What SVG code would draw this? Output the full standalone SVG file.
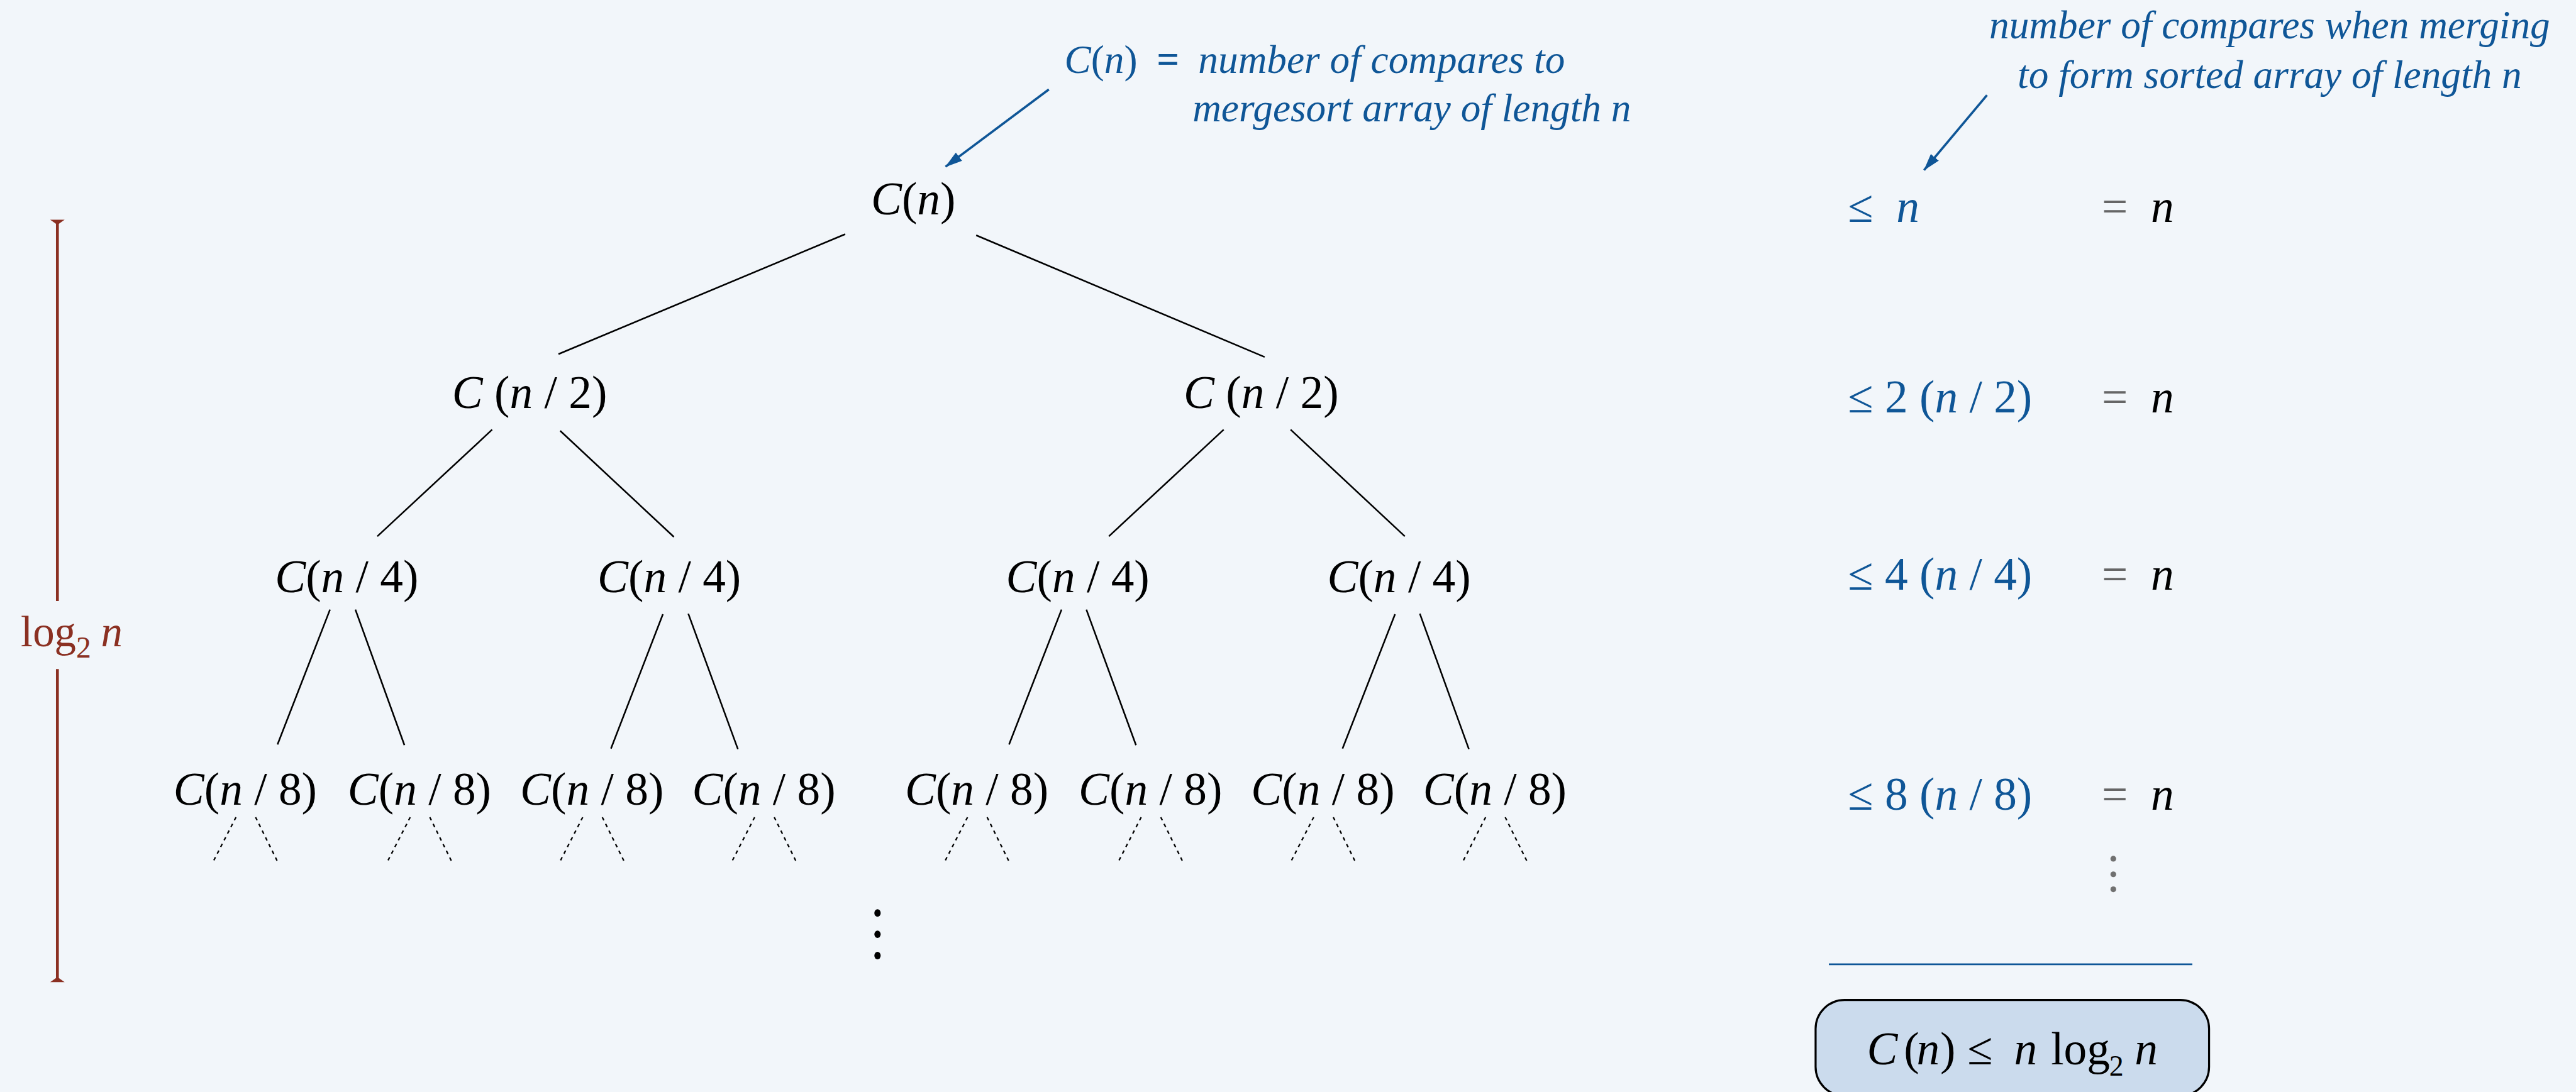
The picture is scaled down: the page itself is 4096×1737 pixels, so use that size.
<svg xmlns="http://www.w3.org/2000/svg" width="4096" height="1737" viewBox="0 0 4096 1737">
<style>
text{font-family:"Liberation Serif","Times New Roman",serif;}
.node{font-size:80px;fill:#000;text-anchor:middle;}
.i{font-style:italic;}
.blue{fill:#0f5697;}
.ann{font-size:69px;fill:#0f5697;font-style:italic;}
.eq{font-size:80px;}
.gray{fill:#666;}
.edge{stroke:#000;stroke-width:2.8;fill:none;}
.dash{stroke:#000;stroke-width:2.5;stroke-dasharray:6 7;fill:none;}
.arrow{stroke:#0f5697;stroke-width:4;fill:none;marker-end:url(#ah);}
</style>
<defs>
<marker id="ah" markerUnits="userSpaceOnUse" markerWidth="30" markerHeight="18" viewBox="0 0 30 18" refX="29" refY="9" orient="auto">
<path d="M0,0 L30,9 L0,18 z" fill="#0f5697"/>
</marker>
</defs>
<rect x="0" y="0" width="4096" height="1737" fill="#f2f6fa"/>
<g transform="scale(0.91736)">

<g id="connectors">
<line class="edge" x1="1465" y1="406" x2="968" y2="614"/>
<line class="edge" x1="1692" y1="408" x2="2192" y2="619"/>
<line class="edge" x1="853" y1="745" x2="654" y2="930"/>
<line class="edge" x1="971" y1="747" x2="1168" y2="931"/>
<line class="edge" x1="2121" y1="745" x2="1922" y2="930"/>
<line class="edge" x1="2237" y1="745" x2="2435" y2="930"/>
<line class="edge" x1="572" y1="1057" x2="481" y2="1291"/>
<line class="edge" x1="616" y1="1057" x2="701" y2="1292"/>
<line class="edge" x1="1149" y1="1065" x2="1059" y2="1298"/>
<line class="edge" x1="1193" y1="1064" x2="1279" y2="1299"/>
<line class="edge" x1="1840" y1="1057" x2="1749" y2="1291"/>
<line class="edge" x1="1883" y1="1057" x2="1969" y2="1292"/>
<line class="edge" x1="2418" y1="1065" x2="2327" y2="1298"/>
<line class="edge" x1="2461" y1="1064" x2="2546" y2="1299"/>
<line class="dash" x1="409" y1="1417" x2="369" y2="1495"/><line class="dash" x1="443" y1="1417" x2="482" y2="1496"/>
<line class="dash" x1="711" y1="1417" x2="671" y2="1495"/><line class="dash" x1="745" y1="1417" x2="784" y2="1496"/>
<line class="dash" x1="1010" y1="1417" x2="970" y2="1495"/><line class="dash" x1="1044" y1="1417" x2="1083" y2="1496"/>
<line class="dash" x1="1308" y1="1417" x2="1268" y2="1495"/><line class="dash" x1="1342" y1="1417" x2="1381" y2="1496"/>
<line class="dash" x1="1677" y1="1417" x2="1637" y2="1495"/><line class="dash" x1="1711" y1="1417" x2="1750" y2="1496"/>
<line class="dash" x1="1978" y1="1417" x2="1938" y2="1495"/><line class="dash" x1="2012" y1="1417" x2="2051" y2="1496"/>
<line class="dash" x1="2277" y1="1417" x2="2237" y2="1495"/><line class="dash" x1="2311" y1="1417" x2="2350" y2="1496"/>
<line class="dash" x1="2575" y1="1417" x2="2535" y2="1495"/><line class="dash" x1="2609" y1="1417" x2="2648" y2="1496"/>
<line class="arrow" x1="1818" y1="155" x2="1639" y2="289"/>
<line class="arrow" x1="3444" y1="165" x2="3335" y2="295"/>
</g>

<g id="root"><text class="node" x="1583" y="372"><tspan class="i">C</tspan>(<tspan class="i">n</tspan>)</text></g>
<g id="n2a"><text class="node" x="918" y="708"><tspan class="i">C</tspan> (<tspan class="i">n</tspan> / 2)</text></g>
<g id="n2b"><text class="node" x="2186" y="708"><tspan class="i">C</tspan> (<tspan class="i">n</tspan> / 2)</text></g>
<g id="n4a"><text class="node" x="601" y="1027"><tspan class="i">C</tspan>(<tspan class="i">n</tspan> / 4)</text></g>
<g id="n4b"><text class="node" x="1160" y="1027"><tspan class="i">C</tspan>(<tspan class="i">n</tspan> / 4)</text></g>
<g id="n4c"><text class="node" x="1868" y="1027"><tspan class="i">C</tspan>(<tspan class="i">n</tspan> / 4)</text></g>
<g id="n4d"><text class="node" x="2425" y="1027"><tspan class="i">C</tspan>(<tspan class="i">n</tspan> / 4)</text></g>
<g id="n8a"><text class="node" x="425" y="1395"><tspan class="i">C</tspan>(<tspan class="i">n</tspan> / 8)</text></g>
<g id="n8b"><text class="node" x="727" y="1395"><tspan class="i">C</tspan>(<tspan class="i">n</tspan> / 8)</text></g>
<g id="n8c"><text class="node" x="1026" y="1395"><tspan class="i">C</tspan>(<tspan class="i">n</tspan> / 8)</text></g>
<g id="n8d"><text class="node" x="1324" y="1395"><tspan class="i">C</tspan>(<tspan class="i">n</tspan> / 8)</text></g>
<g id="n8e"><text class="node" x="1693" y="1395"><tspan class="i">C</tspan>(<tspan class="i">n</tspan> / 8)</text></g>
<g id="n8f"><text class="node" x="1994" y="1395"><tspan class="i">C</tspan>(<tspan class="i">n</tspan> / 8)</text></g>
<g id="n8g"><text class="node" x="2293" y="1395"><tspan class="i">C</tspan>(<tspan class="i">n</tspan> / 8)</text></g>
<g id="n8h"><text class="node" x="2591" y="1395"><tspan class="i">C</tspan>(<tspan class="i">n</tspan> / 8)</text></g>

<g id="tree-dots" fill="#000">
<ellipse cx="1521" cy="1583" rx="5.5" ry="6.5"/>
<ellipse cx="1521" cy="1620" rx="5.5" ry="6.5"/>
<ellipse cx="1521" cy="1657" rx="5.5" ry="6.5"/>
</g>

<g id="annotation-left">
<text class="ann" x="1845" y="126"><tspan>C</tspan><tspan font-style="normal">(</tspan><tspan>n</tspan><tspan font-style="normal">) </tspan><tspan x="2005" font-style="normal" font-weight="bold">= </tspan><tspan x="2077">number of compares to</tspan></text>
<text class="ann" x="2067" y="210">mergesort array of length n</text>
</g>

<g id="annotation-right">
<text class="ann" x="3934" y="67" text-anchor="middle">number of compares when merging</text>
<text class="ann" x="3934" y="153" text-anchor="middle">to form sorted array of length n</text>
</g>

<g id="height">
<line x1="99.5" y1="383" x2="99.5" y2="1042" stroke="#8b3022" stroke-width="5"/>
<line x1="99.5" y1="1160" x2="99.5" y2="1701" stroke="#8b3022" stroke-width="5"/>
<polygon points="87,381 112,381 102,388 97,388" fill="#8b3022"/>
<polygon points="87,1703 112,1703 102,1696 97,1696" fill="#8b3022"/>
<text x="36" y="1121" font-size="75" fill="#8b3022">log<tspan font-size="52" y="1140">2 </tspan><tspan class="i" x="175" y="1121">n</tspan></text>
</g>

<g id="row1">
<text class="eq blue" x="3203" y="385">≤ <tspan class="i" x="3287">n</tspan></text>
<text class="eq" x="3643" y="385"><tspan class="gray">= </tspan><tspan class="i" x="3728">n</tspan></text>
</g>
<g id="row2">
<text class="eq blue" x="3203" y="715">≤ 2 (<tspan class="i">n</tspan> / 2)</text>
<text class="eq" x="3643" y="715"><tspan class="gray">= </tspan><tspan class="i" x="3728">n</tspan></text>
</g>
<g id="row3">
<text class="eq blue" x="3203" y="1023">≤ 4 (<tspan class="i">n</tspan> / 4)</text>
<text class="eq" x="3643" y="1023"><tspan class="gray">= </tspan><tspan class="i" x="3728">n</tspan></text>
</g>
<g id="row4">
<text class="eq blue" x="3203" y="1404">≤ 8 (<tspan class="i">n</tspan> / 8)</text>
<text class="eq" x="3643" y="1404"><tspan class="gray">= </tspan><tspan class="i" x="3728">n</tspan></text>
</g>
<g id="row-dots" fill="#707070">
<circle cx="3663" cy="1489" r="5"/>
<circle cx="3663" cy="1516" r="5"/>
<circle cx="3663" cy="1542" r="5"/>
</g>
<line x1="3170" y1="1672" x2="3800" y2="1672" stroke="#0f5697" stroke-width="3"/>

<g id="result">
<rect x="3147" y="1734" width="682" height="166" rx="50" ry="50" fill="#cbdbed" stroke="#000" stroke-width="3.5"/>
<text class="eq" y="1845"><tspan class="i" x="3236">C</tspan><tspan x="3300">(</tspan><tspan class="i" x="3322">n</tspan><tspan x="3363">) </tspan><tspan x="3410">≤ </tspan><tspan class="i" x="3491">n </tspan><tspan x="3555">log</tspan><tspan font-size="50" x="3656" y="1865">2 </tspan><tspan class="i" x="3700" y="1845">n</tspan></text>
</g>

</g>
</svg>
